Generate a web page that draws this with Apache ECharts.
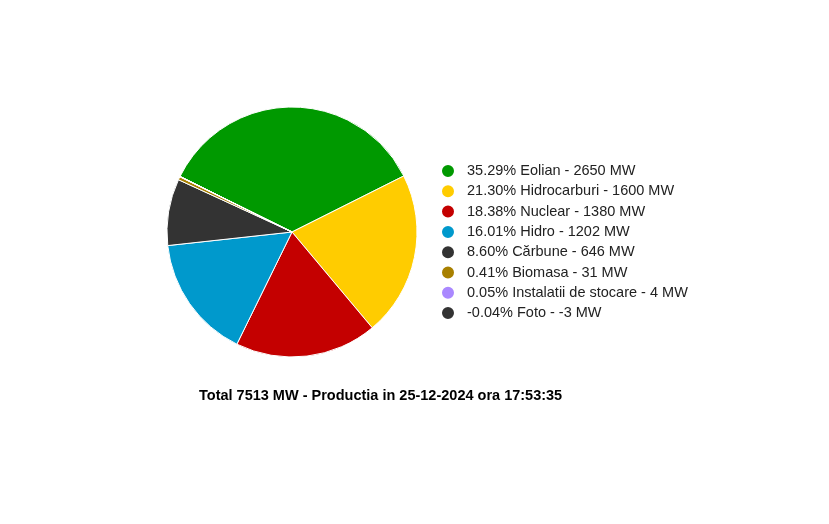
<!DOCTYPE html>
<html>
<head>
<meta charset="utf-8">
<script src="https://cdn.jsdelivr.net/npm/echarts@6/dist/echarts.min.js"></script>
<style>
  html, body { margin: 0; padding: 0; background: #fff; }
  #chart { width: 829px; height: 524px; }
</style>
</head>
<body>
<div id="chart"></div>
<script>
var names = ['Eolian', 'Hidrocarburi', 'Nuclear', 'Hidro', 'Cărbune', 'Biomasa', 'Instalatii de stocare', 'Foto'];
var values = [2650, 1600, 1380, 1202, 646, 31, 4, -3];
var colors = ['#009900', '#ffcc00', '#c40000', '#0099cc', '#333333', '#a88000', '#aa88ff', '#333333'];
var titleText = 'Total 7513 MW - Productia in 25-12-2024 ora 17:53:35';

var sumAll = values.reduce(function (a, b) { return a + b; }, 0);

var pieData = names.map(function (n, i) {
    return {
        name: n,
        value: Math.max(values[i], 0),
        itemStyle: { color: colors[i] }
    };
});

var chart = echarts.init(document.getElementById('chart'));
chart.setOption({
    animation: false,
    title: {
        text: titleText,
        left: 194,
        top: 383,
        textStyle: { fontFamily: 'Liberation Sans, Arial', fontSize: 14.5, fontWeight: 'bold', color: '#000' }
    },
    legend: {
        orient: 'vertical',
        left: 435,
        top: 158,
        icon: 'circle',
        itemWidth: 28,
        itemHeight: 14,
        itemGap: 4.3,
        selectedMode: false,
        data: names,
        textStyle: { fontFamily: 'Liberation Sans, Arial', fontSize: 14.5, color: '#222' },
        formatter: function (name) {
            var i = names.indexOf(name);
            var pct = (values[i] / sumAll * 100).toFixed(2);
            return pct + '% ' + name + ' - ' + values[i] + ' MW';
        }
    },
    series: [{
        type: 'pie',
        center: [292, 232],
        radius: 125,
        startAngle: 153.6,
        clockwise: true,
        label: { show: false },
        labelLine: { show: false },
        emphasis: { disabled: true },
        itemStyle: { borderColor: '#fff', borderWidth: 1 },
        data: pieData
    }]
});
</script>
</body>
</html>
